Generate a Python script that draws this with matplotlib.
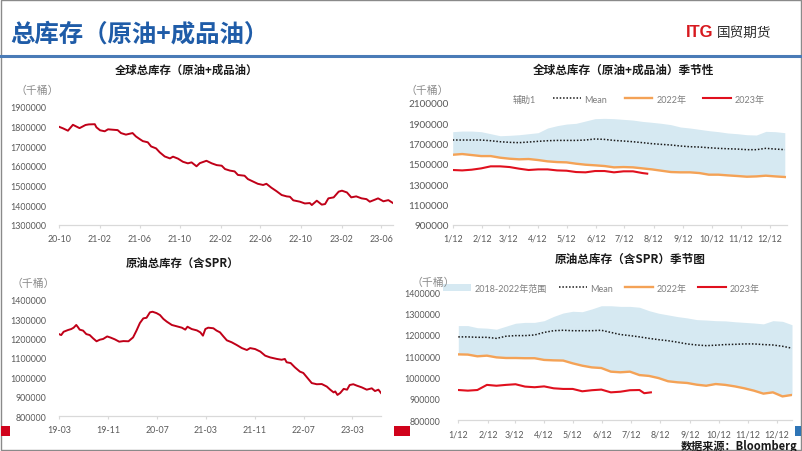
import matplotlib
matplotlib.use('Agg')
import matplotlib.pyplot as plt
import matplotlib.dates as mdates
from matplotlib.lines import Line2D
from matplotlib.patches import Rectangle, Patch
from matplotlib.ticker import FuncFormatter
import pandas as pd
import numpy as np

plt.rcParams['font.family'] = ['Noto Sans CJK SC', 'DejaVu Sans']

# ---------------- data ----------------
# Panel 1: global total inventory (crude + products), thousand barrels
tl_dates = ['2020-10-01', '2020-10-13', '2020-10-28', '2020-11-12', '2020-12-02', '2020-12-20', '2020-12-30',
            '2021-01-17', '2021-01-22', '2021-02-02', '2021-02-16', '2021-02-26', '2021-03-12', '2021-03-27',
            '2021-04-06', '2021-04-21', '2021-05-11', '2021-05-21', '2021-06-01', '2021-06-11', '2021-06-26',
            '2021-07-06', '2021-07-21', '2021-08-01', '2021-08-16', '2021-09-01', '2021-09-10', '2021-09-25',
            '2021-10-10', '2021-10-25', '2021-11-05', '2021-11-20', '2021-11-30', '2021-12-20',
            '2022-01-05', '2022-01-20', '2022-02-04', '2022-02-14', '2022-03-01', '2022-03-15', '2022-03-25',
            '2022-04-14', '2022-04-24', '2022-05-09', '2022-05-24', '2022-06-09', '2022-06-19', '2022-07-04',
            '2022-07-19', '2022-08-04', '2022-08-19', '2022-08-29', '2022-09-08', '2022-09-28', '2022-10-13',
            '2022-10-28', '2022-11-03', '2022-11-18', '2022-12-03', '2022-12-13', '2022-12-23',
            '2023-01-08', '2023-01-23', '2023-02-02', '2023-02-17', '2023-03-02', '2023-03-17', '2023-04-02',
            '2023-04-17', '2023-04-27', '2023-05-12', '2023-05-22', '2023-06-07', '2023-06-22', '2023-07-06']
tl_values = [1798000, 1790000, 1778000, 1808000, 1791000, 1807000, 1810000,
             1811000, 1795000, 1780000, 1775000, 1785000, 1783000, 1781000,
             1766000, 1758000, 1766000, 1749000, 1736000, 1725000, 1719000,
             1698000, 1688000, 1668000, 1647000, 1637000, 1646000, 1636000,
             1620000, 1612000, 1617000, 1597000, 1613000, 1625000,
             1612000, 1603000, 1600000, 1583000, 1575000, 1571000, 1553000,
             1549000, 1532000, 1520000, 1508000, 1502000, 1508000, 1488000,
             1471000, 1451000, 1444000, 1442000, 1424000, 1417000, 1408000,
             1410000, 1400000, 1422000, 1402000, 1405000, 1434000,
             1439000, 1468000, 1473000, 1464000, 1439000, 1444000, 1434000,
             1430000, 1417000, 1427000, 1434000, 1419000, 1425000, 1410000]

# Panel 3: crude total inventory incl. SPR
bl_dates = ['2019-03-01', '2019-03-12', '2019-03-24', '2019-04-15', '2019-05-01', '2019-05-13', '2019-05-26',
            '2019-06-04', '2019-06-12', '2019-06-29', '2019-07-15', '2019-08-01', '2019-08-18', '2019-09-04',
            '2019-09-20', '2019-10-07', '2019-10-27', '2019-11-13', '2019-12-04', '2019-12-26',
            '2020-01-16', '2020-02-10', '2020-03-04', '2020-03-21', '2020-04-07', '2020-04-24', '2020-05-10',
            '2020-05-27', '2020-06-09', '2020-06-29', '2020-07-16', '2020-08-02', '2020-08-19', '2020-09-13',
            '2020-10-08', '2020-11-02', '2020-11-19', '2020-11-30', '2020-12-21',
            '2021-01-16', '2021-02-02', '2021-02-15', '2021-02-27', '2021-03-13', '2021-04-08', '2021-04-24',
            '2021-05-11', '2021-05-28', '2021-06-14', '2021-07-08', '2021-08-02', '2021-08-28', '2021-09-22',
            '2021-10-08', '2021-11-02', '2021-11-28', '2021-12-22',
            '2022-01-16', '2022-02-19', '2022-03-14', '2022-03-30', '2022-04-08', '2022-04-28', '2022-05-19',
            '2022-06-13', '2022-06-30', '2022-07-25', '2022-08-11', '2022-09-05', '2022-09-30', '2022-10-25',
            '2022-11-11', '2022-11-28', '2022-12-06', '2022-12-17', '2022-12-31',
            '2023-01-17', '2023-02-03', '2023-02-16', '2023-03-06', '2023-03-23', '2023-04-17', '2023-05-12',
            '2023-06-06', '2023-06-22', '2023-07-09', '2023-07-22']
bl_values = [1223000, 1218000, 1235000, 1244000, 1249000, 1256000, 1270000,
             1258000, 1246000, 1241000, 1223000, 1218000, 1201000, 1186000,
             1194000, 1198000, 1211000, 1205000, 1196000, 1184000,
             1187000, 1186000, 1206000, 1241000, 1280000, 1304000, 1307000,
             1335000, 1338000, 1331000, 1321000, 1301000, 1287000, 1270000,
             1263000, 1256000, 1246000, 1261000, 1249000,
             1242000, 1232000, 1215000, 1249000, 1256000, 1253000, 1241000,
             1232000, 1211000, 1191000, 1181000, 1167000, 1151000, 1141000,
             1151000, 1146000, 1133000, 1112000,
             1103000, 1095000, 1091000, 1095000, 1078000, 1074000, 1052000,
             1030000, 1023000, 992000, 971000, 965000, 966000, 953000,
             937000, 923000, 928000, 910000, 920000,
             941000, 937000, 961000, 965000, 958000, 949000, 937000,
             944000, 930000, 937000, 920000]

# Seasonal panels: days after 12 Jan
season_days = [0, 10, 20, 30, 40, 50, 60, 70, 80, 90, 100, 110, 120, 130, 140, 150, 160, 170,
               180, 190, 200, 210, 220, 230, 240, 250, 260, 270, 280, 290, 300, 310, 320, 330, 340, 350]
season_tick_days = [0, 31, 59, 90, 120, 151, 181, 212, 243, 273, 304, 334]
season_tick_labels = ['1/12', '2/12', '3/12', '4/12', '5/12', '6/12', '7/12', '8/12', '9/12',
                      '10/12', '11/12', '12/12']

# Panel 2: global total seasonal
tr_range_high = [1815000, 1821000, 1821000, 1815000, 1795000, 1775000, 1779000, 1785000, 1795000, 1805000,
                 1851000, 1874000, 1890000, 1897000, 1920000, 1943000, 1946000, 1943000, 1936000, 1929000,
                 1916000, 1907000, 1897000, 1884000, 1861000, 1851000, 1838000, 1825000, 1815000, 1802000,
                 1795000, 1785000, 1782000, 1818000, 1815000, 1805000]
tr_mean = [1733000, 1733000, 1733000, 1733000, 1726000, 1716000, 1710000, 1707000, 1713000, 1720000,
           1726000, 1729000, 1729000, 1729000, 1733000, 1743000, 1739000, 1729000, 1723000, 1716000,
           1707000, 1697000, 1690000, 1684000, 1674000, 1667000, 1664000, 1657000, 1651000, 1647000,
           1644000, 1638000, 1638000, 1651000, 1644000, 1638000]
tr_2022 = [1588000, 1595000, 1585000, 1575000, 1575000, 1559000, 1549000, 1543000, 1546000, 1536000,
           1523000, 1516000, 1513000, 1500000, 1490000, 1484000, 1477000, 1464000, 1467000, 1464000,
           1454000, 1444000, 1431000, 1418000, 1415000, 1415000, 1408000, 1392000, 1392000, 1385000,
           1379000, 1372000, 1375000, 1382000, 1375000, 1369000]
tr_2023_days = [0, 10, 20, 30, 40, 50, 60, 70, 80, 90, 100, 110, 120, 130, 140, 150, 160, 170, 180, 190, 200, 205]
tr_2023 = [1438000, 1434000, 1441000, 1454000, 1474000, 1474000, 1467000, 1451000, 1438000, 1444000,
           1444000, 1434000, 1431000, 1418000, 1415000, 1428000, 1428000, 1415000, 1425000, 1425000,
           1408000, 1402000]

# Panel 4: crude incl. SPR seasonal
br_range_high = [1244000, 1244000, 1234000, 1232000, 1227000, 1241000, 1255000, 1259000, 1259000, 1267000,
                 1287000, 1303000, 1311000, 1309000, 1322000, 1337000, 1337000, 1334000, 1334000, 1330000,
                 1314000, 1302000, 1294000, 1286000, 1280000, 1272000, 1270000, 1267000, 1266000, 1262000,
                 1259000, 1256000, 1252000, 1267000, 1264000, 1248000]
br_mean = [1191000, 1191000, 1189000, 1189000, 1184000, 1194000, 1197000, 1197000, 1200000, 1212000,
           1220000, 1222000, 1220000, 1220000, 1220000, 1222000, 1212000, 1202000, 1197000, 1191000,
           1184000, 1178000, 1173000, 1166000, 1158000, 1153000, 1150000, 1152000, 1155000, 1156000,
           1158000, 1158000, 1155000, 1153000, 1147000, 1138000]
br_2022 = [1109000, 1108000, 1100000, 1103000, 1095000, 1092000, 1092000, 1091000, 1091000, 1083000,
           1081000, 1080000, 1067000, 1056000, 1048000, 1045000, 1028000, 1025000, 1028000, 1012000,
           1008000, 998000, 983000, 978000, 975000, 967000, 962000, 970000, 966000, 959000,
           950000, 939000, 925000, 931000, 912000, 919000]
br_2023_days = [0, 10, 20, 30, 40, 50, 60, 70, 80, 90, 100, 110, 120, 130, 140, 150, 160, 170, 180, 190, 195, 202]
br_2023 = [942000, 939000, 942000, 966000, 962000, 966000, 969000, 958000, 955000, 959000,
           950000, 947000, 947000, 936000, 941000, 944000, 931000, 934000, 941000, 942000,
           927000, 931000]

# ---------------- figure ----------------
W, H = 802, 452
fig = plt.figure(figsize=(W / 100, H / 100), dpi=100, facecolor='white')


def fx(px):
    return px / W


def fy(py):
    return 1 - py / H


def box(x0, x1, ytop, ybot):
    return [fx(x0), fy(ybot), fx(x1) - fx(x0), fy(ytop) - fy(ybot)]


GRAY_TXT = '#595959'
AX_LINE = '#d9d9d9'
NUM_FONT = ['Lato', 'DejaVu Sans']
CJK = ['Noto Sans CJK SC', 'DejaVu Sans']
LEG_FONT = ['Lato', 'Noto Sans CJK SC']
UNIT_FS = 7.8


def style(ax, ylim, ystep, ypad, yfs, xfs):
    for s in ['top', 'right', 'left']:
        ax.spines[s].set_visible(False)
    ax.spines['bottom'].set_color(AX_LINE)
    ax.spines['bottom'].set_linewidth(0.9)
    ax.set_ylim(*ylim)
    ax.set_yticks(np.arange(ylim[0], ylim[1] + 1, ystep))
    ax.yaxis.set_major_formatter(FuncFormatter(lambda v, p: f'{int(round(v))}'))
    ax.tick_params(axis='y', length=0, pad=ypad, labelcolor=GRAY_TXT)
    ax.tick_params(axis='x', length=2.5, width=0.8, color=AX_LINE, pad=4, labelcolor=GRAY_TXT)
    for lab in ax.get_yticklabels():
        lab.set_family(NUM_FONT)
        lab.set_fontsize(yfs)
    ax.set_facecolor('none')


def set_xfont(ax, fs):
    for lab in ax.get_xticklabels():
        lab.set_family(NUM_FONT)
        lab.set_fontsize(fs)


# decorations: frame, header line, title, logo
fig.add_artist(Rectangle((fx(0.5), fy(451.3)), fx(801) - fx(0.5), fy(0.7) - fy(451.3),
                         transform=fig.transFigure, fill=False, edgecolor='#8a8a8a', linewidth=1.0))
fig.add_artist(Line2D([fx(0), fx(802)], [fy(56.8), fy(56.8)], transform=fig.transFigure,
                      color='#4a7bb7', linewidth=2.2))
fig.text(fx(10), fy(34), '总库存（原油+成品油）', fontsize=17.6, fontweight='bold', color='#1f5ca8',
         ha='left', va='center', family=CJK)
fig.text(fx(685.5), fy(32.5), 'ITG', fontsize=12, fontweight='bold', color='#d7191f',
         ha='left', va='center', family=['Liberation Sans', 'DejaVu Sans'])
fig.text(fx(717), fy(32.5), '国贸期货', fontsize=9.8, fontweight='medium', color='#2b2b2b',
         ha='left', va='center', family=CJK)

# little slide squares
fig.add_artist(Rectangle((fx(1), fy(437.3)), fx(10) - fx(1), fy(426.7) - fy(437.3),
                         transform=fig.transFigure, color='#d0021b', linewidth=0))
fig.add_artist(Rectangle((fx(393.5), fy(437.3)), fx(410) - fx(393.5), fy(426.7) - fy(437.3),
                         transform=fig.transFigure, color='#d0021b', linewidth=0))
fig.add_artist(Rectangle((fx(795), fy(437.3)), fx(801) - fx(795), fy(426.7) - fy(437.3),
                         transform=fig.transFigure, color='#2e75b6', linewidth=0))

# ---- panel 1 ----
ax1 = fig.add_axes(box(59, 393, 107.7, 225.7))
d1 = pd.to_datetime(tl_dates)
ax1.plot(d1, tl_values, color='#c00018', linewidth=1.4)
ax1.set_xlim(d1[0], d1[-1])
ax1.xaxis.set_major_locator(mdates.MonthLocator(bymonth=(2, 6, 10)))
ax1.xaxis.set_major_formatter(mdates.DateFormatter('%y-%m'))
style(ax1, (1300000, 1900000), 100000, 9, 6.4, 6.4)
set_xfont(ax1, 6.4)
fig.text(fx(186.7), fy(70), '全球总库存（原油+成品油）', fontsize=8.2, fontweight='bold',
         ha='center', va='center', family=CJK, color='#1a1a1a')
fig.text(fx(15.2), fy(91), '（千桶）', fontsize=UNIT_FS, color='#8c8c8c', ha='left', va='center', family=CJK)

# ---- panel 3 ----
ax3 = fig.add_axes(box(59, 381, 300.7, 417.3))
d3 = pd.to_datetime(bl_dates)
ax3.plot(d3, bl_values, color='#c00018', linewidth=1.4)
ax3.set_xlim(d3[0], d3[-1])
ax3.set_xticks(pd.date_range('2019-03-01', periods=7, freq='8MS'))
ax3.xaxis.set_major_formatter(mdates.DateFormatter('%y-%m'))
style(ax3, (800000, 1400000), 100000, 9, 6.4, 6.4)
set_xfont(ax3, 6.4)
fig.text(fx(182.7), fy(263.3), '原油总库存（含SPR）', fontsize=8.2, fontweight='bold',
         ha='center', va='center', family=CJK, color='#1a1a1a')
fig.text(fx(11.5), fy(283.3), '（千桶）', fontsize=UNIT_FS, color='#8c8c8c', ha='left', va='center', family=CJK)


def seasonal(ax, high, mean, y22, d23, y23, ylim, ystep, ypad, yfs):
    ax.fill_between(season_days, y22, high, color='#d6e9f2', linewidth=0, zorder=1)
    ax.plot(season_days, mean, color='#1a1a1a', linestyle=(0, (1, 1.2)), linewidth=1.1, zorder=3)
    ax.plot(season_days, y22, color='#f4a256', linewidth=1.7, zorder=3)
    ax.plot(d23, y23, color='#e0101e', linewidth=1.5, zorder=4)
    ax.set_xticks(season_tick_days)
    ax.set_xticklabels(season_tick_labels)
    style(ax, ylim, ystep, ypad, yfs, 6.4)
    set_xfont(ax, 6.4)


# ---- panel 2 ----
ax2 = fig.add_axes(box(452.7, 786.7, 103.7, 225.7))
seasonal(ax2, tr_range_high, tr_mean, tr_2022, tr_2023_days, tr_2023,
         (900000, 2100000), 200000, 3, 7.2)
ax2.set_xlim(0, 352)
fig.text(fx(623.8), fy(70.7), '全球总库存（原油+成品油）季节性', fontsize=8.4, fontweight='bold',
         ha='center', va='center', family=CJK, color='#1a1a1a')
fig.text(fx(405.2), fy(91), '（千桶）', fontsize=UNIT_FS, color='#8c8c8c', ha='left', va='center', family=CJK)
h2 = [Line2D([], [], color='none'),
      Line2D([], [], color='#1a1a1a', linestyle=(0, (1, 1.2)), linewidth=1.1),
      Line2D([], [], color='#f4a256', linewidth=1.7),
      Line2D([], [], color='#e0101e', linewidth=1.5)]
leg2 = ax2.legend(h2, ['辅助1', 'Mean', '2022年', '2023年'], ncol=4, frameon=False,
                  loc='center left', bbox_to_anchor=(fx(481), fy(100)), bbox_transform=fig.transFigure,
                  borderpad=0, borderaxespad=0, handlelength=3.1, handletextpad=0.4,
                  columnspacing=1.9, prop={'family': LEG_FONT, 'size': 6.5})
for t in leg2.get_texts():
    t.set_color('#7f7f7f')

# ---- panel 4 ----
ax4 = fig.add_axes(box(458.3, 792, 293.3, 421.3))
seasonal(ax4, br_range_high, br_mean, br_2022, br_2023_days, br_2023,
         (800000, 1400000), 100000, 13, 6.4)
ax4.set_xlim(0, 350)
fig.text(fx(630), fy(259.3), '原油总库存（含SPR）季节图', fontsize=8.4, fontweight='bold',
         ha='center', va='center', family=CJK, color='#1a1a1a')
fig.text(fx(411.5), fy(282.3), '（千桶）', fontsize=UNIT_FS, color='#8c8c8c', ha='left', va='center', family=CJK)
h4 = [Patch(facecolor='#d6e9f2', edgecolor='none'),
      Line2D([], [], color='#1a1a1a', linestyle=(0, (1, 1.2)), linewidth=1.1),
      Line2D([], [], color='#f4a256', linewidth=1.7),
      Line2D([], [], color='#e0101e', linewidth=1.5)]
leg4 = ax4.legend(h4, ['2018-2022年范围', 'Mean', '2022年', '2023年'], ncol=4, frameon=False,
                  loc='center left', bbox_to_anchor=(fx(443), fy(289)), bbox_transform=fig.transFigure,
                  borderpad=0, borderaxespad=0, handlelength=3.1, handletextpad=0.4,
                  columnspacing=1.3, prop={'family': LEG_FONT, 'size': 6.5})
for t in leg4.get_texts():
    t.set_color('#7f7f7f')

fig.text(fx(681), fy(446.5), '数据来源：Bloomberg', fontsize=8, fontweight='bold', color='#1a1a1a',
         ha='left', va='center', family=['Noto Sans CJK SC', 'DejaVu Sans'])

fig.savefig('out.png', dpi=100, facecolor='white')
